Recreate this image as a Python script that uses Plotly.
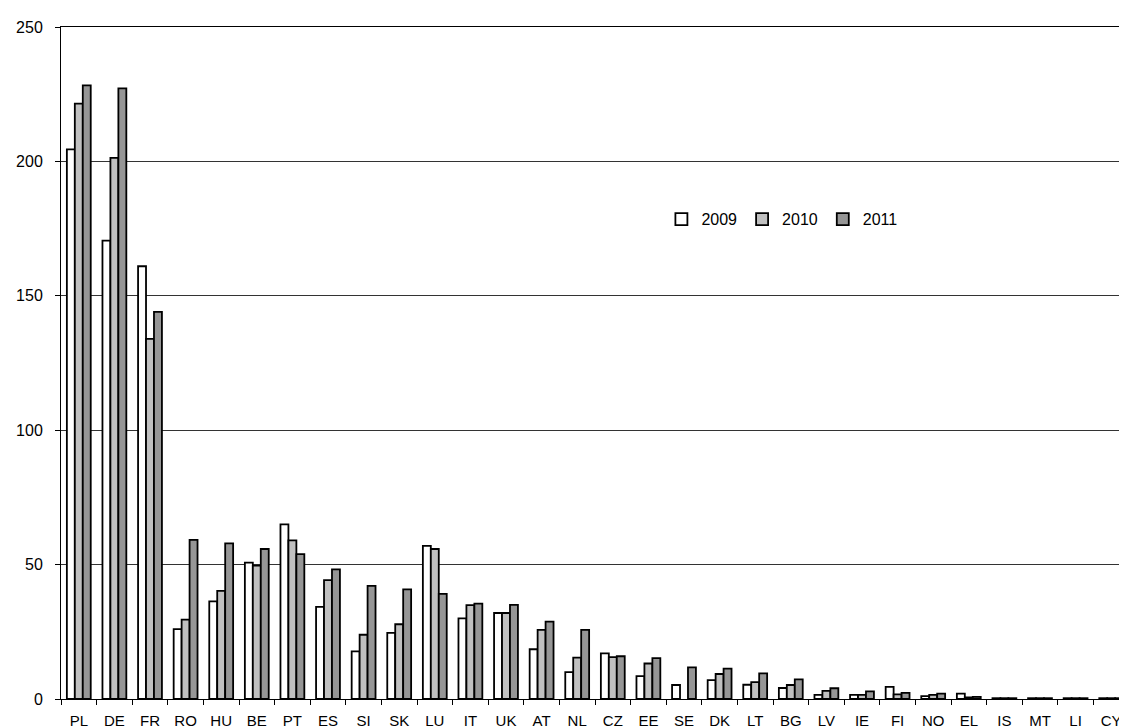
import plotly.graph_objects as go

countries = ["PL", "DE", "FR", "RO", "HU", "BE", "PT", "ES", "SI", "SK", "LU", "IT", "UK", "AT", "NL",
             "CZ", "EE", "SE", "DK", "LT", "BG", "LV", "IE", "FI", "NO", "EL", "IS", "MT", "LI", "CY"]
v2009 = [204.5, 170.5, 161, 26, 36.3, 50.7, 65, 34.3, 17.7, 24.6, 57, 30, 32, 18.5, 10,
         17, 8.5, 5.2, 7, 5.3, 4.1, 1.5, 1.5, 4.5, 1.1, 2, 0.3, 0.3, 0.3, 0.3]
v2010 = [221.5, 201.3, 134, 29.5, 40.2, 49.6, 59, 44.2, 23.9, 27.8, 55.8, 34.9, 32, 25.7, 15.4,
         15.6, 13.2, None, 9.3, 6.3, 5.2, 3, 1.5, 1.7, 1.5, 0.6, 0.3, 0.3, 0.3, 0.3]
v2011 = [228.3, 227.2, 144, 59.2, 57.9, 55.8, 53.9, 48.2, 42.1, 40.8, 39.1, 35.5, 35, 28.8, 25.7,
         15.9, 15.2, 11.8, 11.3, 9.5, 7.3, 4, 2.8, 2.3, 2, 0.8, 0.3, 0.3, 0.3, 0.3]

series = [("2009", v2009, "#ffffff"), ("2010", v2010, "#c0c0c0"), ("2011", v2011, "#969696")]

fig = go.Figure()
for name, vals, col in series:
    fig.add_trace(go.Bar(x=countries, y=vals, name=name,
                         marker=dict(color=col, line=dict(color="#000000", width=1.8))))

fig.update_layout(
    width=1127, height=728,
    paper_bgcolor="white", plot_bgcolor="white",
    margin=dict(l=53, r=6, t=19, b=37),
    barmode="group", bargap=0.33, bargroupgap=0,
    font=dict(family="Liberation Sans, Arial, sans-serif", size=15, color="#000000"),
    showlegend=True,
    legend=dict(orientation="h", x=0.675, y=0.714, xanchor="center", yanchor="middle",
                font=dict(size=16), itemwidth=30, bgcolor="rgba(0,0,0,0)", traceorder="normal"),
)
fig.update_xaxes(
    type="category", range=[-0.5, 29.5],
    showline=True, linecolor="#000000", linewidth=1, mirror=True,
    ticks="outside", ticklen=5, tickcolor="#000000", tickson="boundaries",
    showgrid=False, tickfont=dict(size=15), ticklabelstandoff=8,
)
fig.update_yaxes(
    range=[0, 250], dtick=50, tick0=0,
    showline=True, linecolor="#000000", linewidth=1,
    ticks="outside", ticklen=5, tickcolor="#000000",
    showgrid=True, gridcolor="#333333", gridwidth=1,
    zeroline=False, ticklabelstandoff=9, tickfont=dict(size=16),
)

fig.write_html("out.html")
